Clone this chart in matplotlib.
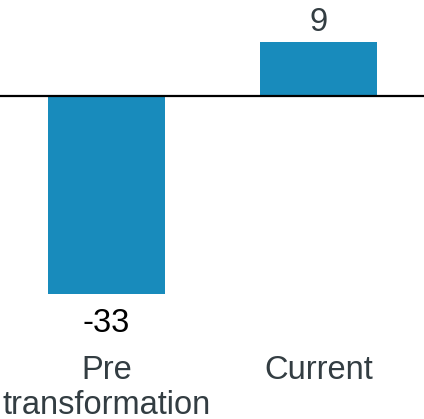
import matplotlib
matplotlib.use('Agg')
import matplotlib.pyplot as plt

categories = ['Pre\ntransformation', 'Current']
values = [-33, 9]
value_labels = ['-33', '9']

plt.rcParams['font.family'] = ['Liberation Sans', 'DejaVu Sans']

fig = plt.figure(figsize=(4.24, 4.19), dpi=100)
ax = fig.add_axes([0, 0, 1, 1])

x = list(range(len(values)))
ax.bar(x, values, width=0.552, color='#188bbc', zorder=2)
ax.axhline(0, color='black', linewidth=1.6, zorder=3)

ax.set_xlim(-0.502, 1.498)
ax.set_ylim(-53.83, 16)
ax.axis('off')

fs = 23.5

# value labels above / below the bars
for xi, v, lab in zip(x, values, value_labels):
    if v < 0:
        ax.annotate(lab, (xi, v), xytext=(0, -38), textcoords='offset pixels',
                    ha='center', va='baseline', fontsize=fs, color='black')
    else:
        ax.annotate(lab, (xi, v), xytext=(0, 11), textcoords='offset pixels',
                    ha='center', va='baseline', fontsize=fs, color='#333d42')

# category labels, one text per line
for xi, cat in zip(x, categories):
    for i, line in enumerate(cat.split('\n')):
        ax.text(xi, -47.2 - i * 5.75, line, ha='center', va='baseline',
                fontsize=fs, color='#333d42')

fig.savefig('out.png', dpi=100)
